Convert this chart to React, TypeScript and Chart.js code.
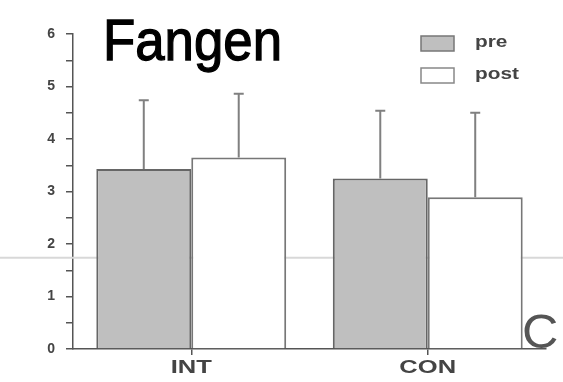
import React, { useEffect, useRef } from 'react';
import { Chart, registerables } from 'chart.js';

Chart.register(...registerables);

const categories = ['INT', 'CON'];
const preValues = [3.43, 3.25];
const postValues = [3.65, 2.89];
const preErrors = [1.31, 1.29];
const postErrors = [1.21, 1.61];
const seriesLabels = ['pre', 'post'];
const titleText = 'Fangen';
const cornerLetter = 'C';
const artifactLineValue = 1.74;

const FONT = '"Liberation Sans", Arial, sans-serif';

function stretchedText(ctx: any, text: string, x: number, y: number, sx: number, align: string) {
  ctx.save();
  ctx.translate(x, y);
  ctx.scale(sx, 1);
  ctx.textAlign = align;
  ctx.fillText(text, 0, 0);
  ctx.restore();
}

const errorBarPlugin = {
  id: 'errorBars',
  afterDatasetsDraw(chart: any) {
    const ctx = chart.ctx;
    const yScale = chart.scales.y;
    const errs = [preErrors, postErrors];
    chart.data.datasets.forEach((ds: any, i: number) => {
      const meta = chart.getDatasetMeta(i);
      meta.data.forEach((bar: any, j: number) => {
        const v = ds.data[j];
        const top = yScale.getPixelForValue(v + errs[i][j]);
        ctx.save();
        ctx.strokeStyle = '#808080';
        ctx.lineWidth = 2;
        ctx.beginPath();
        ctx.moveTo(bar.x, bar.y);
        ctx.lineTo(bar.x, top);
        ctx.moveTo(bar.x - 5, top);
        ctx.lineTo(bar.x + 5, top);
        ctx.stroke();
        ctx.restore();
      });
    });
  },
};

const decorPlugin = {
  id: 'decor',
  beforeDatasetsDraw(chart: any) {
    const ctx = chart.ctx;
    const y = chart.scales.y.getPixelForValue(artifactLineValue);
    ctx.save();
    ctx.strokeStyle = '#d8d8d8';
    ctx.lineWidth = 2;
    ctx.beginPath();
    ctx.moveTo(0, y);
    ctx.lineTo(chart.width, y);
    ctx.stroke();
    ctx.restore();
  },
  afterDraw(chart: any) {
    const ctx = chart.ctx;
    // x category labels (horizontally stretched like the scanned original)
    const xScale = chart.scales.x;
    ctx.save();
    ctx.fillStyle = '#444';
    ctx.font = `bold 18px ${FONT}`;
    ctx.textBaseline = 'middle';
    categories.forEach((c, i) => {
      stretchedText(ctx, c, xScale.getPixelForValue(i), 368, 1.42, 'center');
    });
    ctx.restore();

    // title
    ctx.save();
    ctx.fillStyle = '#000';
    ctx.strokeStyle = '#000';
    ctx.lineWidth = 1.3;
    ctx.font = `58px ${FONT}`;
    ctx.textBaseline = 'alphabetic';
    ctx.textAlign = 'left';
    ctx.translate(103, 60);
    ctx.scale(0.91, 1);
    ctx.fillText(titleText, 0, 0);
    ctx.strokeText(titleText, 0, 0);
    ctx.restore();

    // legend
    const fills = ['#bfbfbf', '#ffffff'];
    const borders = ['#777', '#888'];
    const boxY = [36, 68];
    ctx.save();
    for (let i = 0; i < seriesLabels.length; i++) {
      ctx.fillStyle = fills[i];
      ctx.fillRect(421, boxY[i], 33, 15);
      ctx.strokeStyle = borders[i];
      ctx.lineWidth = 1.5;
      ctx.strokeRect(421, boxY[i], 33, 15);
      ctx.fillStyle = '#444';
      ctx.font = `bold 16px ${FONT}`;
      ctx.textBaseline = 'middle';
      stretchedText(ctx, seriesLabels[i], 475, boxY[i] + 7, 1.3, 'left');
    }
    ctx.restore();

    // corner letter
    ctx.save();
    ctx.fillStyle = '#555';
    ctx.font = `48px ${FONT}`;
    ctx.textBaseline = 'alphabetic';
    stretchedText(ctx, cornerLetter, 522, 348, 1.05, 'left');
    ctx.restore();
  },
};

export default function App() {
  const ref = useRef<HTMLCanvasElement | null>(null);
  useEffect(() => {
    document.body.style.margin = '0';
    const canvas = ref.current!;
    const chart = new Chart(canvas, {
      type: 'bar',
      data: {
        labels: categories,
        datasets: [
          {
            label: seriesLabels[0],
            data: preValues,
            backgroundColor: '#bfbfbf',
            borderColor: '#666',
            borderWidth: 2,
            categoryPercentage: 0.803,
            barPercentage: 1,
          },
          {
            label: seriesLabels[1],
            data: postValues,
            backgroundColor: '#ffffff',
            borderColor: '#777',
            borderWidth: 2,
            categoryPercentage: 0.803,
            barPercentage: 1,
          },
        ],
      },
      options: {
        animation: false,
        responsive: false,
        devicePixelRatio: 1,
        layout: { padding: { top: 34, right: 17, left: 0, bottom: 0 } },
        plugins: {
          legend: { display: false },
          title: { display: false },
          tooltip: { enabled: false },
        },
        scales: {
          x: {
            offset: true,
            grid: {
              offset: false,
              drawOnChartArea: false,
              tickLength: 6,
              color: '#555',
              lineWidth: 1.5,
            },
            border: { color: '#555', width: 1.5 },
            ticks: { display: false },
            afterFit(scale: any) {
              scale.height = 33;
            },
          },
          y: {
            min: 0,
            max: 6,
            grid: {
              drawOnChartArea: false,
              tickLength: 7,
              color: '#555',
              lineWidth: 1.5,
            },
            border: { color: '#555', width: 1.5 },
            ticks: {
              stepSize: 0.5,
              autoSkip: false,
              color: '#444',
              font: { family: FONT, size: 14, weight: 'bold' },
              padding: 11,
              callback: (v: any) => (Number.isInteger(v) ? String(v) : ''),
            },
            afterFit(scale: any) {
              scale.width = 73;
            },
          },
        },
      },
      plugins: [decorPlugin, errorBarPlugin],
    });
    return () => chart.destroy();
  }, []);
  return (
    <div style={{ width: 563, height: 382, background: '#fff' }}>
      <canvas ref={ref} width={563} height={382} />
    </div>
  );
}
